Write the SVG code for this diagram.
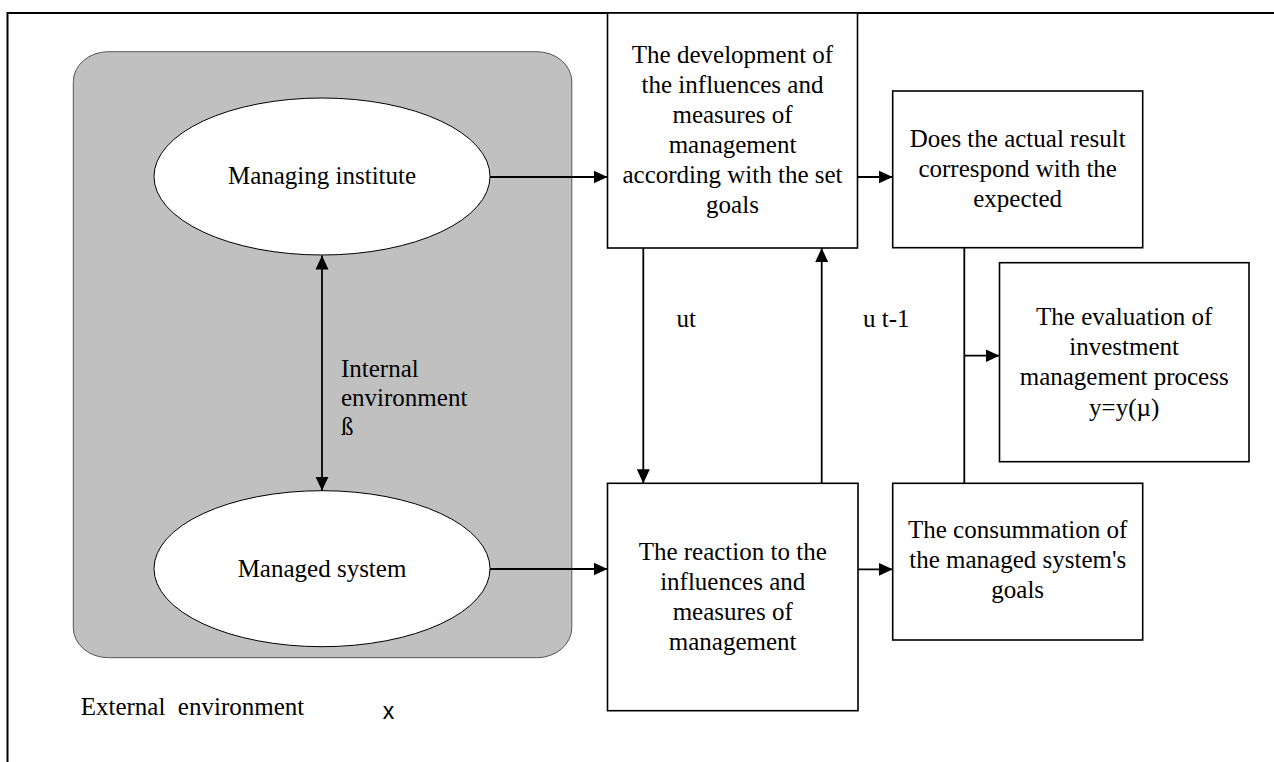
<svg xmlns="http://www.w3.org/2000/svg" width="1274" height="762" viewBox="0 0 1274 762">
<style>
text{font-family:"Liberation Serif","Times New Roman",serif;font-size:25px;fill:#000}
.c{text-anchor:middle}
.box{fill:#fff;stroke:#000;stroke-width:1.6}
.ell{fill:#fff;stroke:#000;stroke-width:1}
.ln{fill:none;stroke:#000;stroke-width:1.8}
.sans{font-family:"Liberation Sans",Arial,sans-serif;font-size:23px}
</style>
<defs>
<marker id="ah" markerUnits="userSpaceOnUse" markerWidth="14" markerHeight="14" refX="14" refY="6.5" orient="auto-start-reverse" viewBox="0 0 14 13">
<path d="M0,0 L14,6.5 L0,13 z" fill="#000"/>
</marker>
</defs>
<rect width="1274" height="762" fill="#fff"/>
<g id="frame">
<path d="M7.5,762 V13 H1274" fill="none" stroke="#000" stroke-width="2"/>
</g>
<g id="internal">
<rect x="73.3" y="51.7" width="498.5" height="606" rx="35" ry="30" fill="#c0c0c0" stroke="#555" stroke-width="1"/>
</g>
<g id="managing">
<ellipse class="ell" cx="322" cy="176.5" rx="168" ry="78.5"/>
<text class="c" x="322" y="184">Managing institute</text>
</g>
<g id="managed">
<ellipse class="ell" cx="322" cy="568.7" rx="168" ry="78"/>
<text class="c" x="322" y="577">Managed system</text>
</g>
<g id="development">
<rect class="box" x="607.5" y="13" width="250" height="235"/>
<text class="c" x="732.5" y="63.3">The development of</text>
<text class="c" x="732.5" y="93">the influences and</text>
<text class="c" x="732.5" y="123">measures of</text>
<text class="c" x="732.5" y="153">management</text>
<text class="c" x="732.5" y="183">according with the set</text>
<text class="c" x="732.5" y="213">goals</text>
</g>
<g id="correspond">
<rect class="box" x="892.7" y="91" width="250" height="156.7"/>
<text class="c" x="1017.7" y="147">Does the actual result</text>
<text class="c" x="1017.7" y="177">correspond with the</text>
<text class="c" x="1017.7" y="207">expected</text>
</g>
<g id="evaluation">
<rect class="box" x="999.5" y="262.7" width="249.5" height="199"/>
<text class="c" x="1124.2" y="325">The evaluation of</text>
<text class="c" x="1124.2" y="355">investment</text>
<text class="c" x="1124.2" y="385">management process</text>
<text class="c" x="1124.2" y="415.5">y=y(µ)</text>
</g>
<g id="consummation">
<rect class="box" x="892.7" y="483.3" width="250" height="156.7"/>
<text class="c" x="1017.7" y="537.5">The consummation of</text>
<text class="c" x="1017.7" y="567.5">the managed system's</text>
<text class="c" x="1017.7" y="597.5">goals</text>
</g>
<g id="reaction">
<rect class="box" x="607.5" y="483.3" width="250.5" height="227.4"/>
<text class="c" x="732.7" y="560">The reaction to the</text>
<text class="c" x="732.7" y="590">influences and</text>
<text class="c" x="732.7" y="620">measures of</text>
<text class="c" x="732.7" y="649.5">management</text>
</g>
<g id="connectors">
<line class="ln" x1="490" y1="177" x2="607.5" y2="177" marker-end="url(#ah)"/>
<line class="ln" x1="490" y1="569" x2="607.5" y2="569" marker-end="url(#ah)"/>
<line class="ln" x1="857.5" y1="177" x2="892.7" y2="177" marker-end="url(#ah)"/>
<line class="ln" x1="858" y1="569.3" x2="892.7" y2="569.3" marker-end="url(#ah)"/>
<line class="ln" x1="322" y1="255.5" x2="322" y2="490.7" marker-start="url(#ah)" marker-end="url(#ah)"/>
<line class="ln" x1="643.3" y1="248" x2="643.3" y2="483.3" marker-end="url(#ah)"/>
<line class="ln" x1="821.7" y1="483.3" x2="821.7" y2="248" marker-end="url(#ah)"/>
<line class="ln" x1="964.3" y1="247.7" x2="964.3" y2="483.3"/>
<line class="ln" x1="964.3" y1="355.7" x2="999.5" y2="355.7" marker-end="url(#ah)"/>
</g>
<g id="labels">
<text x="341" y="377">Internal</text>
<text x="341" y="406">environment</text>
<text x="341" y="435">ß</text>
<text x="676.5" y="327">ut</text>
<text x="863" y="327">u t-1</text>
<text x="80.7" y="715" xml:space="preserve">External  environment</text>
<text class="sans" x="382.7" y="718.5">x</text>
</g>
</svg>
